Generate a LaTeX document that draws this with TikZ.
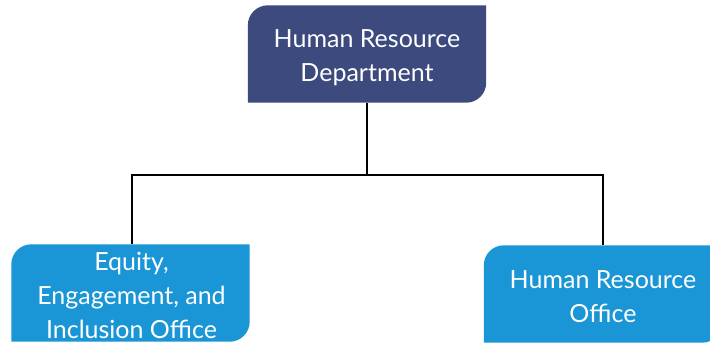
\documentclass[tikz,border=0pt]{standalone}
\usepackage{fontspec}
\setmainfont{Lato}
\usetikzlibrary{calc,backgrounds}
\definecolor{topblue}{HTML}{3C4A7E}
\definecolor{subblue}{HTML}{1A95D6}
\newcommand{\diagcornerbox}[3]{%
  \fill[#2] (#1.south west) -- ($(#1.north west)+(0,-#3)$)
    arc[start angle=180,end angle=90,radius=#3] -- (#1.north east)
    -- ($(#1.south east)+(0,#3)$) arc[start angle=0,end angle=-90,radius=#3] -- cycle;}
\begin{document}
\begin{tikzpicture}[x=1pt,y=1pt,
  boxnode/.style={minimum width=238pt,minimum height=97pt,inner sep=0pt},
  boxtext/.style={inner sep=0pt,text=white,align=center,font=\fontsize{25}{34}\selectfont},
  conn/.style={draw=black,line width=1.3pt}]
\useasboundingbox (0,0) rectangle (710,343);
\node[boxnode] (hrd) at (367,289) {};
\node[boxnode] (eeio) at (130.5,50) {};
\node[boxnode] (hro) at (603,49) {};
\begin{scope}[on background layer]
  \diagcornerbox{hrd}{topblue}{20pt}
  \diagcornerbox{eeio}{subblue}{20pt}
  \diagcornerbox{hro}{subblue}{20pt}
\end{scope}
\node[boxtext] (hrdtext) at ($(hrd.center)+(0,-4)$) {Human Resource\\Department};
\node[boxtext] (eeiotext) at ($(eeio.center)+(1,-2)$) {Equity,\\Engagement, and\\Inclusion Office};
\node[boxtext] (hrotext) at ($(hro.center)+(0,-3)$) {Human Resource\\Office};
\coordinate (split) at (367,168);
\draw[conn] (hrd.south) -- (split);
\draw[conn] (split) -| ([xshift=1.5pt]eeio.north);
\draw[conn] (split) -| (hro.north);
\end{tikzpicture}
\end{document}
